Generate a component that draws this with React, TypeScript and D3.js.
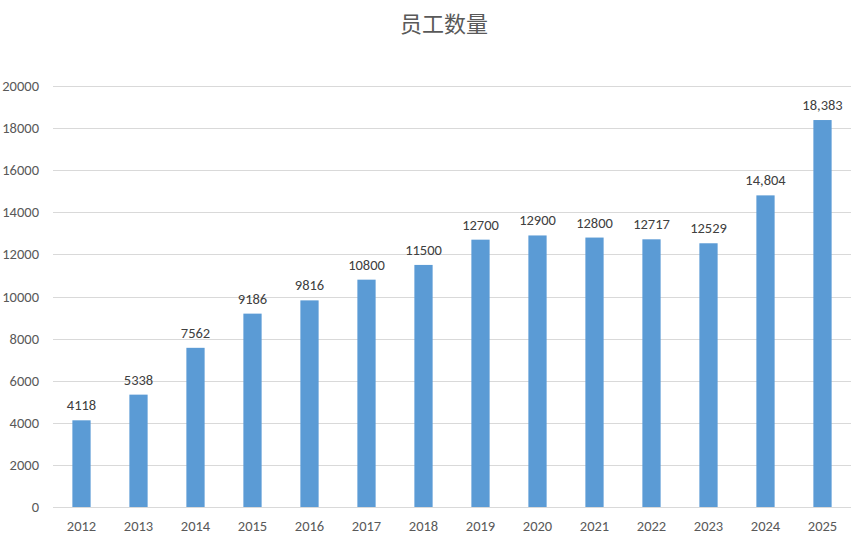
import React from "react";
import * as d3 from "d3";

const years = ["2012","2013","2014","2015","2016","2017","2018","2019","2020","2021","2022","2023","2024","2025"];
const values = [4118,5338,7562,9186,9816,10800,11500,12700,12900,12800,12717,12529,14804,18383];
const labels = ["4118","5338","7562","9186","9816","10800","11500","12700","12900","12800","12717","12529","14,804","18,383"];
const yTicks = [0,2000,4000,6000,8000,10000,12000,14000,16000,18000,20000];
const title = "员工数量";

export default function App() {
  const W = 865, H = 545;
  const left = 53, right = 851, top = 86, bottom = 507;
  const x = d3.scaleBand<string>().domain(years).range([left, right]).paddingInner(0.68).paddingOuter(0.34);
  const y = d3.scaleLinear().domain([0, 20000]).range([bottom, top]);
  const font = "Calibri, Carlito, 'Liberation Sans', 'Noto Sans CJK SC', sans-serif";
  return (
    <svg width={W} height={H} style={{ position: "absolute", left: 0, top: 0, background: "#fff" }} fontFamily={font}>
      <text x={444} y={32} textAnchor="middle" fontSize={22} fill="#595959" fontFamily="'Noto Sans CJK SC', sans-serif">{title}</text>
      {yTicks.map(t => (
        <g key={t}>
          <line x1={left} x2={right} y1={Math.round(y(t)) + 0.5} y2={Math.round(y(t)) + 0.5} stroke="#D9D9D9" strokeWidth={1} />
          <text x={39} y={y(t) + 5} textAnchor="end" fontSize={14.5} fill="#595959">{t}</text>
        </g>
      ))}
      {years.map((yr, i) => (
        <g key={yr}>
          <rect x={x(yr)} y={y(values[i])} width={x.bandwidth()} height={bottom - y(values[i])} fill="#5B9BD5" />
          <text x={x(yr)! + x.bandwidth() / 2} y={y(values[i]) - 10} textAnchor="middle" fontSize={14.5} fill="#404040">{labels[i]}</text>
          <text x={x(yr)! + x.bandwidth() / 2} y={bottom + 24} textAnchor="middle" fontSize={14.5} fill="#595959">{yr}</text>
        </g>
      ))}
    </svg>
  );
}
